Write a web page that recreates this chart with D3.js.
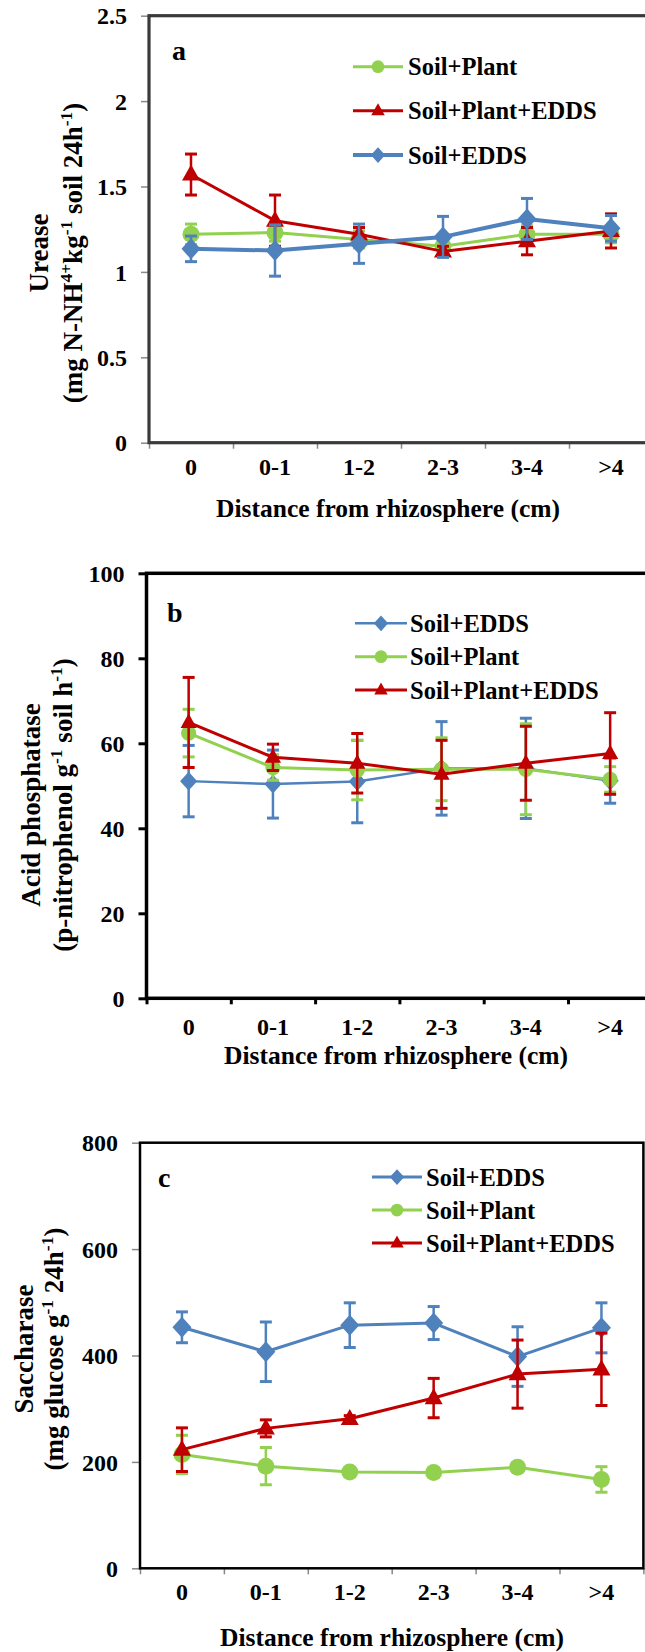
<!DOCTYPE html>
<html>
<head>
<meta charset="utf-8">
<script src="https://cdn.jsdelivr.net/npm/d3@7"></script>
<style>
  html, body { margin: 0; padding: 0; background: #fff; }
  svg { display: block; }
  text { font-family: "Liberation Serif", "Times New Roman", serif; font-weight: bold; fill: #000; }
</style>
</head>
<body>
<svg id="chart" width="645" height="1652"></svg>
<script>
// ---------- DATA ----------
const categories = ["0", "0-1", "1-2", "2-3", "3-4", ">4"];

// Panel a : Urease
const ureaseTicks = [0, 0.5, 1, 1.5, 2, 2.5];
const ureaseSoilPlant = [1.22, 1.23, 1.19, 1.15, 1.22, 1.22];
const ureaseSoilPlantErr = [0.06, 0.05, 0.05, 0.05, 0.05, 0.05];
const ureaseSoilPlantEDDS = [1.57, 1.30, 1.22, 1.12, 1.18, 1.24];
const ureaseSoilPlantEDDSErr = [0.12, 0.15, 0.04, 0.03, 0.08, 0.10];
const ureaseSoilEDDS = [1.135, 1.125, 1.165, 1.205, 1.31, 1.255];
const ureaseSoilEDDSErr = [0.075, 0.15, 0.115, 0.12, 0.12, 0.075];

// Panel b : Acid phosphatase
const acidTicks = [0, 20, 40, 60, 80, 100];
const acidSoilEDDS = [51.1, 50.4, 51.0, 54.1, 54.1, 51.2];
const acidSoilEDDSErr = [8.4, 8.0, 9.7, 11.0, 11.8, 5.3];
const acidSoilPlant = [62.4, 54.3, 53.7, 53.9, 53.9, 51.5];
const acidSoilPlantErr = [5.6, 3.0, 7.0, 7.4, 10.7, 3.0];
const acidSoilPlantEDDS = [64.9, 56.7, 55.3, 52.7, 55.3, 57.6];
const acidSoilPlantEDDSErr = [10.6, 3.1, 7.0, 8.0, 8.7, 9.6];

// Panel c : Saccharase
const sacTicks = [0, 200, 400, 600, 800];
const sacSoilEDDS = [453, 407, 457, 461, 398, 452];
const sacSoilEDDSErr = [29, 56, 42, 31, 56, 47];
const sacSoilPlant = [214, 192, 181, 180, 190, 167];
const sacSoilPlantErr = [36, 35, 8, 8, 8, 24];
const sacSoilPlantEDDS = [223, 263, 281, 320, 365, 374];
const sacSoilPlantEDDSErr = [41, 16, 6, 37, 64, 68];

// ---------- STYLE ----------
const GREEN = "#92D050", RED = "#C00000", BLUE = "#4F81BD";
const seriesStyle = {
  "Soil+Plant": { color: GREEN, marker: "circle" },
  "Soil+Plant+EDDS": { color: RED, marker: "triangle" },
  "Soil+EDDS": { color: BLUE, marker: "diamond" }
};

const panels = [
  {
    letter: "a", ticks: ureaseTicks, max: 2.5,
    left: 149, top: 15.7, bottom: 442.7, band: 84,
    frameColor: "#3a3a3a", frameW: 3.2, tickColor: "#888", tickW: 1.5,
    title1: "Urease", t1x: 48, t2x: 81.5, tcy: 253,
    title2: [["(mg N-NH", false], ["4+", true], ["kg", false], ["-1", true], [" soil 24h", false], ["-1", true], [")", false]],
    letterPos: [172, 60],
    labelY: 475, xTitleY: 516.5, xTitleX: 388,
    legend: { x1: 353, x2: 403, tx: 408, ys: [66.7, 110.7, 155] },
    series: [
      { name: "Soil+Plant", v: ureaseSoilPlant, e: ureaseSoilPlantErr, lw: 3 },
      { name: "Soil+Plant+EDDS", v: ureaseSoilPlantEDDS, e: ureaseSoilPlantEDDSErr, lw: 3 },
      { name: "Soil+EDDS", v: ureaseSoilEDDS, e: ureaseSoilEDDSErr, lw: 4 }
    ],
    ms: 1.0
  },
  {
    letter: "b", ticks: acidTicks, max: 100,
    left: 146.5, top: 573.3, bottom: 998.3, band: 84.3,
    frameColor: "#000", frameW: 3.5, tickColor: "#000", tickW: 3,
    title1: "Acid phosphatase", t1x: 39.5, t2x: 71.5, tcy: 805,
    title2: [["(p-nitrophenol g", false], ["-1", true], [" soil h", false], ["-1", true], [")", false]],
    letterPos: [167, 622],
    labelY: 1035, xTitleY: 1064, xTitleX: 396,
    legend: { x1: 355, x2: 407, tx: 410, ys: [623.3, 656.7, 690] },
    series: [
      { name: "Soil+EDDS", v: acidSoilEDDS, e: acidSoilEDDSErr, lw: 2.5 },
      { name: "Soil+Plant", v: acidSoilPlant, e: acidSoilPlantErr, lw: 3 },
      { name: "Soil+Plant+EDDS", v: acidSoilPlantEDDS, e: acidSoilPlantEDDSErr, lw: 3 }
    ],
    ms: 0.9
  },
  {
    letter: "c", ticks: sacTicks, max: 800,
    left: 140, top: 1142.7, bottom: 1568.3, band: 83.9,
    frameColor: "#000", frameW: 2.5, tickColor: "#888", tickW: 1.5,
    title1: "Saccharase", t1x: 32.5, t2x: 62.5, tcy: 1349,
    title2: [["(mg glucose g", false], ["-1", true], [" 24h", false], ["-1", true], [")", false]],
    letterPos: [158, 1187],
    labelY: 1600, xTitleY: 1646, xTitleX: 392,
    legend: { x1: 372, x2: 422, tx: 426, ys: [1177, 1210, 1243] },
    series: [
      { name: "Soil+EDDS", v: sacSoilEDDS, e: sacSoilEDDSErr, lw: 3 },
      { name: "Soil+Plant", v: sacSoilPlant, e: sacSoilPlantErr, lw: 3 },
      { name: "Soil+Plant+EDDS", v: sacSoilPlantEDDS, e: sacSoilPlantEDDSErr, lw: 3 }
    ],
    ms: 1.0
  }
];

const svg = d3.select("#chart");

function markerPath(type, s) {
  const p = d3.path();
  if (type === "circle") {
    const r = 8.5 * s; p.arc(0, 0, r, 0, 2 * Math.PI);
  } else if (type === "diamond") {
    const w = 9.5 * s, h = 10.5 * s;
    p.moveTo(0, -h); p.lineTo(w, 0); p.lineTo(0, h); p.lineTo(-w, 0); p.closePath();
  } else {
    const w = 9 * s, h = 16 * s;
    p.moveTo(0, -h * 0.62); p.lineTo(w, h * 0.38); p.lineTo(-w, h * 0.38); p.closePath();
  }
  return p.toString();
}

panels.forEach(P => {
  const right = P.left + P.band * categories.length;
  const g = svg.append("g");
  const x = d3.scaleBand().domain(categories).range([P.left, right]).padding(0);
  const y = d3.scaleLinear().domain([0, P.max]).range([P.bottom, P.top]);
  const xb = d3.scaleLinear().domain([0, categories.length]).range([P.left, right]);

  // y axis ticks + labels
  const ya = g.append("g").attr("transform", `translate(${P.left},0)`)
    .call(d3.axisLeft(y).tickValues(P.ticks).tickFormat(d => String(d)).tickSize(8).tickPadding(14));
  ya.select(".domain").remove();
  ya.selectAll("line").attr("stroke", P.tickColor).attr("stroke-width", P.tickW);
  ya.selectAll("text").style("font-size", "24px").attr("dy", "0.34em");

  // x boundary ticks
  const xa = g.append("g").attr("transform", `translate(0,${P.bottom})`)
    .call(d3.axisBottom(xb).tickValues(d3.range(0, categories.length + 1)).tickFormat("").tickSize(6));
  xa.select(".domain").remove();
  xa.selectAll("line").attr("stroke", P.tickColor).attr("stroke-width", P.tickW);

  // x labels
  const xl = g.append("g").attr("transform", `translate(0,${P.bottom})`)
    .call(d3.axisBottom(x).tickSize(0));
  xl.select(".domain").remove();
  xl.selectAll("text").attr("y", P.labelY - P.bottom).attr("dy", 0).style("font-size", "24px");

  // frame
  g.append("rect").attr("x", P.left).attr("y", P.top)
    .attr("width", right - P.left).attr("height", P.bottom - P.top)
    .attr("fill", "none").attr("stroke", P.frameColor).attr("stroke-width", P.frameW);

  // series
  P.series.forEach(S => {
    const st = seriesStyle[S.name];
    const sg = g.append("g");
    const line = d3.line().x((d, i) => x(categories[i]) + x.bandwidth() / 2).y(d => y(d));
    sg.append("path").attr("d", line(S.v)).attr("fill", "none")
      .attr("stroke", st.color).attr("stroke-width", S.lw).attr("stroke-linejoin", "round");
    S.v.forEach((v, i) => {
      const cx = x(categories[i]) + x.bandwidth() / 2;
      const e = S.e[i];
      const y1 = y(v + e), y2 = y(v - e);
      sg.append("line").attr("x1", cx).attr("x2", cx).attr("y1", y1).attr("y2", y2)
        .attr("stroke", st.color).attr("stroke-width", 2.5);
      [y1, y2].forEach(yy => sg.append("line").attr("x1", cx - 6).attr("x2", cx + 6)
        .attr("y1", yy).attr("y2", yy).attr("stroke", st.color).attr("stroke-width", 3));
    });
    S.v.forEach((v, i) => {
      const cx = x(categories[i]) + x.bandwidth() / 2;
      sg.append("path").attr("d", markerPath(st.marker, P.ms))
        .attr("transform", `translate(${cx},${y(v)})`).attr("fill", st.color);
    });
  });

  // legend
  P.series.forEach((S, i) => {
    const st = seriesStyle[S.name];
    const ly = P.legend.ys[i];
    g.append("line").attr("x1", P.legend.x1).attr("x2", P.legend.x2).attr("y1", ly).attr("y2", ly)
      .attr("stroke", st.color).attr("stroke-width", S.lw);
    g.append("path").attr("d", markerPath(st.marker, 0.75))
      .attr("transform", `translate(${(P.legend.x1 + P.legend.x2) / 2},${ly})`).attr("fill", st.color);
    g.append("text").attr("x", P.legend.tx).attr("y", ly + 8.5).style("font-size", "24.5px").text(S.name);
  });

  // panel letter
  g.append("text").attr("x", P.letterPos[0]).attr("y", P.letterPos[1]).style("font-size", "28px").text(P.letter);

  // y titles
  g.append("text").attr("transform", `translate(${P.t1x},${P.tcy}) rotate(-90)`)
    .attr("text-anchor", "middle").style("font-size", "27px").text(P.title1);
  const t2 = g.append("text").attr("transform", `translate(${P.t2x},${P.tcy}) rotate(-90)`)
    .attr("text-anchor", "middle").style("font-size", "27px").style("white-space", "pre");
  P.title2.forEach(([s, sup]) => {
    const ts = t2.append("tspan").text(s);
    if (sup) ts.style("font-size", "17.5px").attr("baseline-shift", "super");
  });

  // x title
  g.append("text").attr("x", P.xTitleX).attr("y", P.xTitleY).attr("text-anchor", "middle")
    .style("font-size", "25.5px").text("Distance from rhizosphere (cm)");
});
</script>
</body>
</html>
